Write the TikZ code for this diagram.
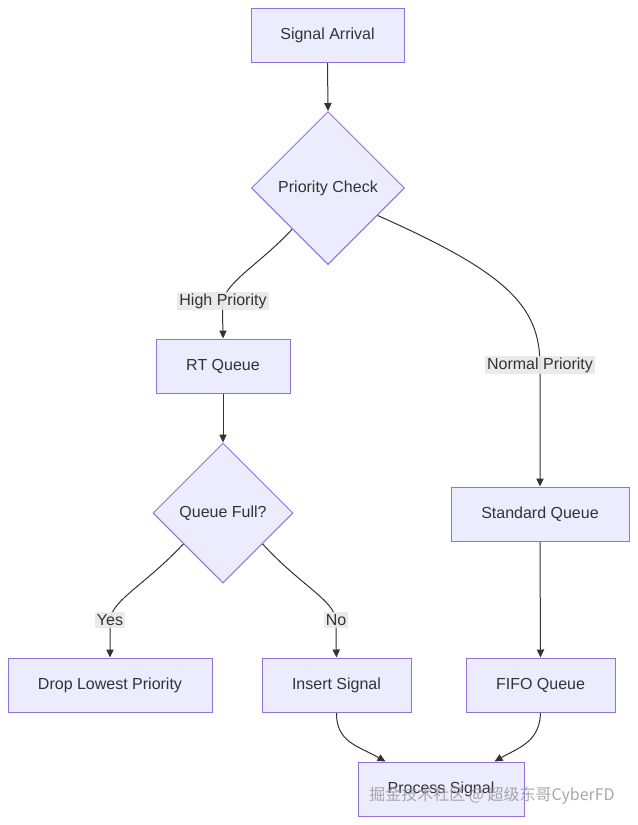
\documentclass[tikz,border=0pt]{standalone}
\usepackage{fontspec}
\setmainfont{Liberation Sans}
\newfontfamily\cjkfont{Noto Sans CJK SC}
\usetikzlibrary{shapes.geometric,arrows.meta,calc}
\definecolor{nodefill}{HTML}{ECECFF}
\definecolor{nodeborder}{HTML}{9370DB}
\definecolor{txt}{HTML}{333333}
\definecolor{lblbg}{HTML}{E8E8E8}
\pgfdeclarelayer{bg}
\pgfdeclarelayer{paper}
\pgfsetlayers{paper,bg,main}
\begin{document}
\begin{tikzpicture}[x=0.75pt,y=-0.75pt,
  font=\fontsize{12pt}{14pt}\selectfont, text=txt,
  box/.style={draw=nodeborder,fill=nodefill,line width=0.75pt,minimum height=40.5pt,inner sep=0pt},
  decision/.style={diamond,aspect=1,draw=nodeborder,fill=nodefill,line width=0.75pt,inner sep=0pt},
  lbl/.style={fill=lblbg,fill opacity=0.9,text opacity=1,inner sep=1.5pt},
  edge/.style={draw=txt,line width=0.75pt,-{Triangle[length=6pt,width=5.5pt]}}]
\useasboundingbox (0,0) rectangle (637,825);
\begin{pgfonlayer}{paper}
\fill[white] (0,0) rectangle (637,825);
\end{pgfonlayer}
% nodes
\node[box,minimum width=114.75pt] (sa) at (327.5,35) {Signal Arrival};
\node[decision,minimum width=114.75pt,minimum height=114.75pt] (pc) at (328,188) {Priority Check};
\node[box,minimum width=100.5pt] (rt) at (223,366) {RT Queue};
\node[decision,minimum width=105pt,minimum height=105pt] (qf) at (223,513) {Queue Full?};
\node[box,minimum width=133.5pt] (sq) at (540,514) {Standard Queue};
\node[box,minimum width=153pt] (dl) at (110,685) {Drop Lowest Priority};
\node[box,minimum width=111.75pt] (is) at (336.5,685) {Insert Signal};
\node[box,minimum width=111.75pt] (ff) at (540.5,685) {FIFO Queue};
\node[box,minimum width=124.5pt] (ps) at (441,789) {Process Signal};
% labels
\node[lbl] (hp) at (223,301) {High Priority};
\node[lbl] (np) at (540,365) {Normal Priority};
\node[lbl] (ys) at (110,620) {Yes};
\node[lbl] (no) at (336,620) {No};
% edges
\begin{pgfonlayer}{bg}
\draw[edge] (sa.south) -- (pc.north);
\draw[edge] (pc.229) .. controls (262,262) and (226,282) .. (hp.center) .. controls (222,320) and (223,325) .. (rt.north);
\draw[edge] (pc.-29) .. controls (505,272) and (540,305) .. (np.center) -- (sq.north);
\draw[edge] (rt.south) -- (qf.north);
\draw[edge] (qf.218) .. controls (145,585) and (112,600) .. (ys.center) .. controls (110,640) and (110,645) .. (dl.north);
\draw[edge] (qf.-38) .. controls (300,585) and (334,600) .. (no.center) .. controls (336,640) and (336,645) .. (is.north);
\draw[edge] (sq.south) -- (ff.north);
\draw[edge] (is.south) .. controls (336,742) and (358,746) .. ($(ps.north west)+(28,0)$);
\draw[edge] (ff.south) .. controls (540,742) and (518,748) .. ($(ps.north east)+(-30,0)$);
\end{pgfonlayer}
% watermark
\node[text=gray!80,opacity=0.85,font=\cjkfont\fontsize{12pt}{14pt}\selectfont] (wm) at (492,796) {掘金技术社区 @ 超级东哥CyberFD};
\end{tikzpicture}
\end{document}
